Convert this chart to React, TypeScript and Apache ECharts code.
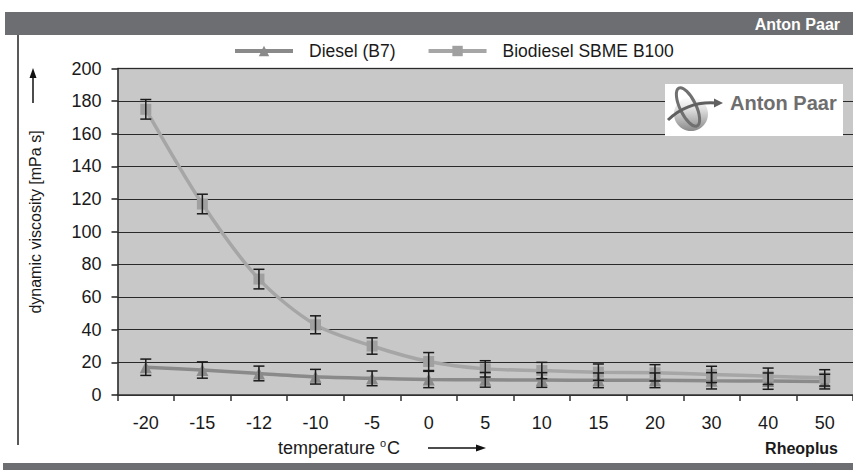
import React, { useEffect, useRef } from "react";
import * as echarts from "echarts";

const categories = ["-20", "-15", "-12", "-10", "-5", "0", "5", "10", "15", "20", "30", "40", "50"];
const dieselValues = [17, 15.3, 13.2, 11.2, 10.2, 9.5, 9.3, 9.2, 9, 9, 8.7, 8.5, 8.2];
const dieselErrors = [5, 5, 4.5, 4.5, 4.5, 5, 4.5, 4.5, 4.5, 4.5, 5, 5, 4.5];
const biodieselValues = [175, 117, 71, 43, 30, 20.5, 16, 15, 14, 13.6, 12.6, 11.5, 10.5];
const biodieselErrors = [6, 6, 6, 5.5, 5, 5.5, 5, 5, 5, 5, 5, 5, 5];
const seriesNames = ["Diesel (B7)", "Biodiesel SBME B100"];

function errorBarData(values: number[], errs: number[]) {
  return values.map((v, i) => [i, v - errs[i], v + errs[i]]);
}

function renderErrorBar(_params: any, api: any) {
  const x = api.value(0);
  const lo = api.coord([x, api.value(1)]);
  const hi = api.coord([x, api.value(2)]);
  const w = 5.5;
  const style = { stroke: "#1a1a1a", lineWidth: 1.5 };
  return {
    type: "group",
    children: [
      { type: "line", shape: { x1: lo[0], y1: lo[1], x2: hi[0], y2: hi[1] }, style },
      { type: "line", shape: { x1: lo[0] - w, y1: lo[1], x2: lo[0] + w, y2: lo[1] }, style },
      { type: "line", shape: { x1: hi[0] - w, y1: hi[1], x2: hi[0] + w, y2: hi[1] }, style },
    ],
  };
}

export default function App() {
  const ref = useRef<HTMLDivElement>(null);
  useEffect(() => {
    if (!ref.current) return;
    const chart = echarts.init(ref.current, null, { renderer: "svg" });
    const font = "Liberation Sans, Arial, sans-serif";
    chart.setOption({
      animation: false,
      backgroundColor: "#ffffff",
      textStyle: { fontFamily: font },
      grid: { left: 117.5, top: 68.5, width: 741, bottom: 75, containLabel: false, show: true, backgroundColor: "#c8c8c8", borderWidth: 0 },
      legend: {
        data: seriesNames,
        left: 228,
        top: 37,
        itemWidth: 58,
        itemHeight: 13,
        itemGap: 31,
        lineStyle: { width: 4 },
        textStyle: { fontSize: 17.5, color: "#1a1a1a", fontFamily: font, padding: [0, 0, 0, 11] },
      },
      xAxis: {
        type: "category",
        data: categories,
        boundaryGap: true,
        axisLine: { lineStyle: { color: "#333", width: 1.5 } },
        axisTick: { show: true, length: 6, lineStyle: { color: "#333", width: 1.5 } },
        axisLabel: { fontSize: 18, color: "#1a1a1a", margin: 19, fontFamily: font },
        splitLine: { show: false },
      },
      yAxis: {
        type: "value",
        min: 0,
        max: 200,
        interval: 20,
        axisLine: { show: true, lineStyle: { color: "#222", width: 1.5 } },
        axisTick: { show: true, length: 6, lineStyle: { color: "#222", width: 1.5 } },
        axisLabel: { fontSize: 18, color: "#1a1a1a", margin: 16, fontFamily: font },
        splitLine: { show: true, lineStyle: { color: "#2a2a2a", width: 1.2 } },
      },
      series: [
        {
          name: seriesNames[0],
          type: "line",
          data: dieselValues,
          smooth: 0.3,
          symbol: "triangle",
          symbolSize: 12,
          lineStyle: { color: "#8a8a8a", width: 3.5 },
          itemStyle: { color: "#8a8a8a" },
          z: 3,
        },
        {
          name: seriesNames[1],
          type: "line",
          data: biodieselValues,
          smooth: 0.3,
          symbol: "rect",
          symbolSize: 11,
          lineStyle: { color: "#a6a6a6", width: 3.5 },
          itemStyle: { color: "#a0a0a0" },
          z: 3,
        },
        {
          name: "Diesel error",
          type: "custom",
          data: errorBarData(dieselValues, dieselErrors),
          renderItem: renderErrorBar,
          encode: { x: 0, y: [1, 2] },
          z: 4,
          silent: true,
        },
        {
          name: "Biodiesel error",
          type: "custom",
          data: errorBarData(biodieselValues, biodieselErrors),
          renderItem: renderErrorBar,
          encode: { x: 0, y: [1, 2] },
          z: 4,
          silent: true,
        },
      ],
      graphic: [
        { type: "rect", shape: { x: 5, y: 12, width: 848, height: 23 }, style: { fill: "#6d6e71" } },
        { type: "text", x: 840, y: 24, style: { text: "Anton Paar", fill: "#ffffff", font: "bold 16px " + font, textAlign: "right", textVerticalAlign: "middle" } },
        { type: "line", shape: { x1: 117.5, y1: 68.5, x2: 853, y2: 68.5 }, style: { stroke: "#808080", lineWidth: 1.5 } },
        { type: "rect", shape: { x: 3, y: 463, width: 850, height: 7 }, style: { fill: "#6d6e71" } },
        { type: "line", shape: { x1: 18, y1: 35, x2: 18, y2: 445 }, style: { stroke: "#222", lineWidth: 1.5 } },
        // y axis name & arrow
        { type: "text", x: 35, y: 222, rotation: Math.PI / 2, style: { text: "dynamic viscosity [mPa s]", fill: "#1a1a1a", font: "16px " + font, textAlign: "center", textVerticalAlign: "middle" } },
        { type: "line", shape: { x1: 33, y1: 103, x2: 33, y2: 76 }, style: { stroke: "#111", lineWidth: 1.5 } },
        { type: "polygon", shape: { points: [[33, 68], [29.5, 78], [36.5, 78]] }, style: { fill: "#111" } },
        // x axis name & arrow
        {
          type: "text",
          x: 339,
          y: 448,
          style: {
            text: "{a|temperature }{s|o}{a|C}",
            textAlign: "center",
            textVerticalAlign: "middle",
            rich: {
              a: { fontSize: 18, fontFamily: font, fill: "#1a1a1a", color: "#1a1a1a" },
              s: { fontSize: 11, fontFamily: font, fill: "#1a1a1a", color: "#1a1a1a", verticalAlign: "top", padding: [0, 1, 10, 0] },
            },
          },
        },
        { type: "line", shape: { x1: 428, y1: 448, x2: 477, y2: 448 }, style: { stroke: "#111", lineWidth: 1.5 } },
        { type: "polygon", shape: { points: [[486, 448], [476, 444.5], [476, 451.5]] }, style: { fill: "#111" } },
        { type: "text", x: 838, y: 448, style: { text: "Rheoplus", fill: "#1a1a1a", font: "bold 16px " + font, textAlign: "right", textVerticalAlign: "middle" } },
        // logo
        { type: "rect", shape: { x: 665, y: 84, width: 178, height: 52 }, style: { fill: "#ffffff" }, z: 10 },
        {
          type: "circle",
          shape: { cx: 691, cy: 114, r: 17 },
          style: {
            fill: new echarts.graphic.LinearGradient(0, 0, 0, 1, [
              { offset: 0, color: "#ffffff" },
              { offset: 0.35, color: "#e0e0e0" },
              { offset: 1, color: "#8a8a8a" },
            ]),
          },
          z: 10,
        },
        { type: "ellipse", x: 688, y: 107, rotation: 0.45, shape: { cx: 0, cy: 0, rx: 8, ry: 21 }, style: { stroke: "#707070", lineWidth: 3, fill: null }, z: 11 },
        { type: "bezierCurve", shape: { x1: 668, y1: 120, x2: 716, y2: 103, cpx1: 688, cpy1: 101 }, style: { stroke: "#606060", lineWidth: 3, fill: null }, z: 11 },
        { type: "polygon", shape: { points: [[723, 103], [714, 98.5], [714, 107.5]] }, style: { fill: "#606060" }, z: 11 },
        { type: "text", x: 730, y: 103, style: { text: "Anton Paar", fill: "#6e6e6e", font: "bold 20px " + font, textAlign: "left", textVerticalAlign: "middle" }, z: 11 },
      ],
    });
    return () => chart.dispose();
  }, []);
  return <div ref={ref} style={{ position: "fixed", left: 0, top: 0, width: 853, height: 470 }} />;
}
